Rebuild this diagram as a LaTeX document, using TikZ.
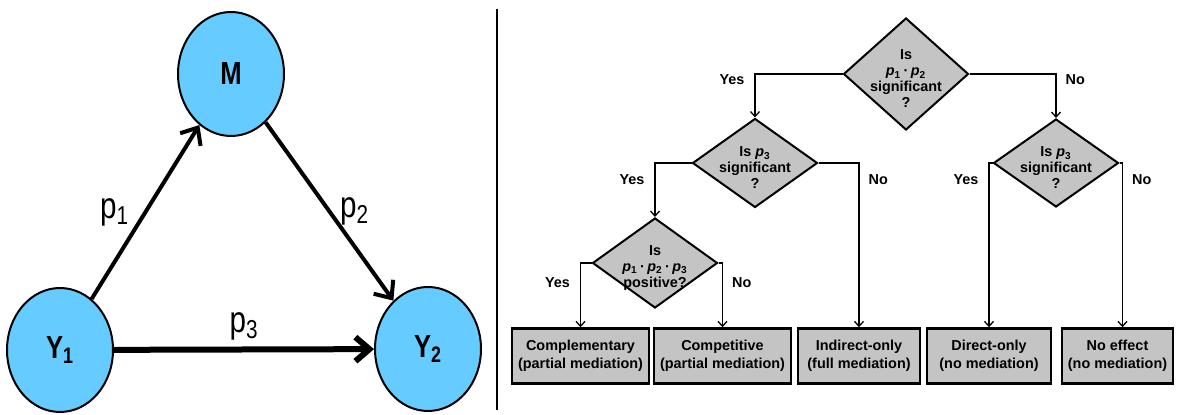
\documentclass[tikz,border=0pt]{standalone}
\usepackage{fontspec}
\setmainfont{Liberation Sans}
\usepackage{graphicx}
\usetikzlibrary{arrows.meta,positioning,calc,shapes.geometric}
\definecolor{skyblue}{RGB}{102,204,255}
\definecolor{panel}{RGB}{196,196,196}
\newcommand{\pv}[1]{\textit{p}\textsubscript{#1}}
\newcommand{\pn}[1]{\scalebox{.8}[1]{p\textsubscript{#1}}}
\newcommand{\nb}[1]{\scalebox{.8}[1]{\textbf{#1}}}

\begin{document}
\begin{tikzpicture}[x=0.5pt,y=-0.5pt,>={Straight Barb[length=2.5pt,width=4.5pt]},
  var/.style={ellipse,draw,line width=1pt,fill=skyblue,minimum width=53pt,minimum height=62pt,inner sep=0pt,font=\fontsize{16}{18}\selectfont},
  plab/.style={font=\fontsize{18.5}{20}\selectfont},
  causal/.style={line width=2pt,-{Straight Barb[length=7pt,width=12pt]}},
  ask/.style={diamond,draw,line width=1pt,fill=panel,inner sep=0pt,minimum width=62.5pt},
  qtext/.style={align=center,font=\fontsize{7.2}{8}\selectfont\bfseries,yshift=-2.5pt},
  res/.style={draw,line width=1.2pt,fill=panel,minimum height=27.5pt,inner sep=0pt,align=center,font=\fontsize{7.2}{9}\selectfont\bfseries},
  flow/.style={->,line width=0.65pt},
  lbl/.style={inner sep=0pt,font=\fontsize{7.2}{8}\selectfont\bfseries}]
\useasboundingbox (0,0) rectangle (1178,415);
% mediation model
\node (M) [var] at (231,74) {\nb{M}};
\node (Y1) [var] at (60,350) {\nb{Y\textsubscript{1}}};
\node (Y2) [var] at (428,349) {\nb{Y\textsubscript{2}}};
\draw[causal] (Y1)-- node[plab,midway,left=4pt] {\pn{1}} (M);
\draw[causal] (M)-- node[plab,midway,right=1pt] {\pn{2}} (Y2);
\draw[causal,line width=3pt] (Y1)-- node[plab,midway,above=0pt] {\pn{3}} (Y2);
\draw[line width=1pt] (497,9)--(497,410);
% decision tree
\node (Q1) [ask,minimum height=56pt,label={[qtext]center:Is\\\pv{1}\,·\,\pv{2}\\significant\\?}] at (906,74) {};
\node (Q2) [ask,minimum height=44.5pt,label={[qtext]center:Is \pv{3}\\significant\\?}] at (755,163) {};
\node (Q3) [ask,minimum height=44pt,label={[qtext]center:Is \pv{3}\\significant\\?}] at (1056,163) {};
\node (Q4) [ask,minimum height=45pt,label={[qtext]center:Is\\\pv{1}\,·\,\pv{2}\,·\,\pv{3}\\positive?}] at (655,263) {};
\node (C) [res,minimum width=68.5pt] at (580.5,356) {Complementary\\(partial mediation)};
\node (K) [res,minimum width=68.5pt] at (722.5,356) {Competitive\\(partial mediation)};
\node (I) [res,minimum width=61pt] at (859,356) {Indirect-only\\(full mediation)};
\node (D) [res,minimum width=62pt] at (989,356) {Direct-only\\(no mediation)};
\node (N) [res,minimum width=55.5pt] at (1117.5,356) {No effect\\(no mediation)};
\draw[flow] (Q1.west) -| node[lbl,pos=.57,left=5pt] {Yes} (Q2.north);
\draw[flow] (Q1.east) -| node[lbl,pos=.565,right=4.5pt] {No} (Q3.north);
\draw[flow] (Q2.west) -| node[lbl,pos=.655,left=5pt] {Yes} (Q4.north);
\draw[flow] (Q2.east) -| node[lbl,pos=.55,right=4.5pt] {No} (I.north);
\draw[flow] (Q3.west) -| node[lbl,pos=.55,left=5pt] {Yes} (D.north);
\draw[flow] (Q3.east) -| node[lbl,pos=.55,right=4.5pt] {No} ([xshift=2.5pt]N.north);
\draw[flow] (Q4.west) -| node[lbl,pos=.65,left=5pt] {Yes} (C.north);
\draw[flow] (Q4.east) -| node[lbl,pos=.65,right=4.5pt] {No} (K.north);
\end{tikzpicture}
\end{document}
